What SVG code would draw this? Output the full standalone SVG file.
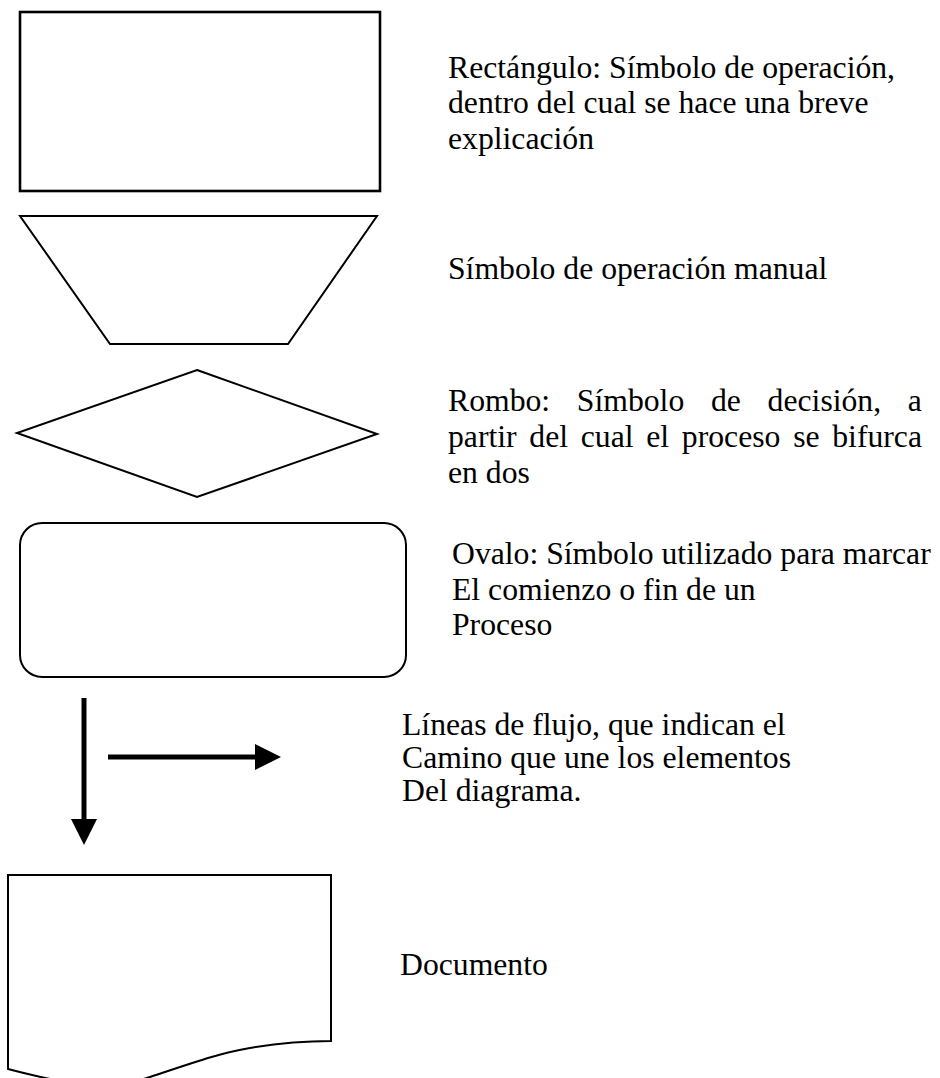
<svg xmlns="http://www.w3.org/2000/svg" width="940" height="1078" viewBox="0 0 940 1078">
<style>
.shape{fill:#fff;stroke:#000;stroke-width:2;stroke-linejoin:miter}
.lbl{font-family:"Liberation Serif","Times New Roman",serif;font-size:31.7px;fill:#000}
.flow{stroke:#000;stroke-width:5;fill:none}
</style>
<defs>
<marker id="ah" markerUnits="userSpaceOnUse" markerWidth="26" markerHeight="26" refX="3" refY="13" orient="auto">
<path d="M0,0 L26,13 L0,26 Z" fill="#000"/>
</marker>
</defs>
<rect width="940" height="1078" fill="#fff"/>
<g id="rectangulo">
<rect class="shape" x="20" y="12" width="360" height="179" style="stroke-width:2.6"/>
<text class="lbl" x="448" y="78">Rectángulo: Símbolo de operación,</text>
<text class="lbl" x="448" y="113">dentro del cual se hace una breve</text>
<text class="lbl" x="448" y="148.5">explicación</text>
</g>
<g id="operacion-manual">
<polygon class="shape" points="20,216 377,216 288,344 110,344"/>
<text class="lbl" x="448" y="279">Símbolo de operación manual</text>
</g>
<g id="rombo">
<polygon class="shape" points="197,370 377,434 197,497 17,433"/>
<text class="lbl" x="448" y="411" word-spacing="18.8">Rombo: Símbolo de decisión, a</text>
<text class="lbl" x="448" y="447" word-spacing="4.8">partir del cual el proceso se bifurca</text>
<text class="lbl" x="448" y="483">en dos</text>
</g>
<g id="ovalo">
<rect class="shape" x="20" y="523" width="386" height="154" rx="22" ry="22"/>
<text class="lbl" x="452" y="564">Ovalo: Símbolo utilizado para marcar</text>
<text class="lbl" x="452" y="599.5">El comienzo o fin de un</text>
<text class="lbl" x="452" y="635">Proceso</text>
</g>
<g id="connectors">
<line class="flow" x1="84" y1="698" x2="84" y2="822" marker-end="url(#ah)"/>
<line class="flow" x1="108" y1="757" x2="258" y2="757" marker-end="url(#ah)"/>
</g>
<g id="lineas-de-flujo">
<text class="lbl" x="402" y="735">Líneas de flujo, que indican el</text>
<text class="lbl" x="402" y="768">Camino que une los elementos</text>
<text class="lbl" x="402" y="801">Del diagrama.</text>
</g>
<g id="documento">
<path class="shape" d="M8,875 H331 V1041 C300,1041 280,1043 250,1048 S195,1062 150,1077 S65,1084 8,1069 Z"/>
<text class="lbl" x="400" y="975">Documento</text>
</g>
</svg>
